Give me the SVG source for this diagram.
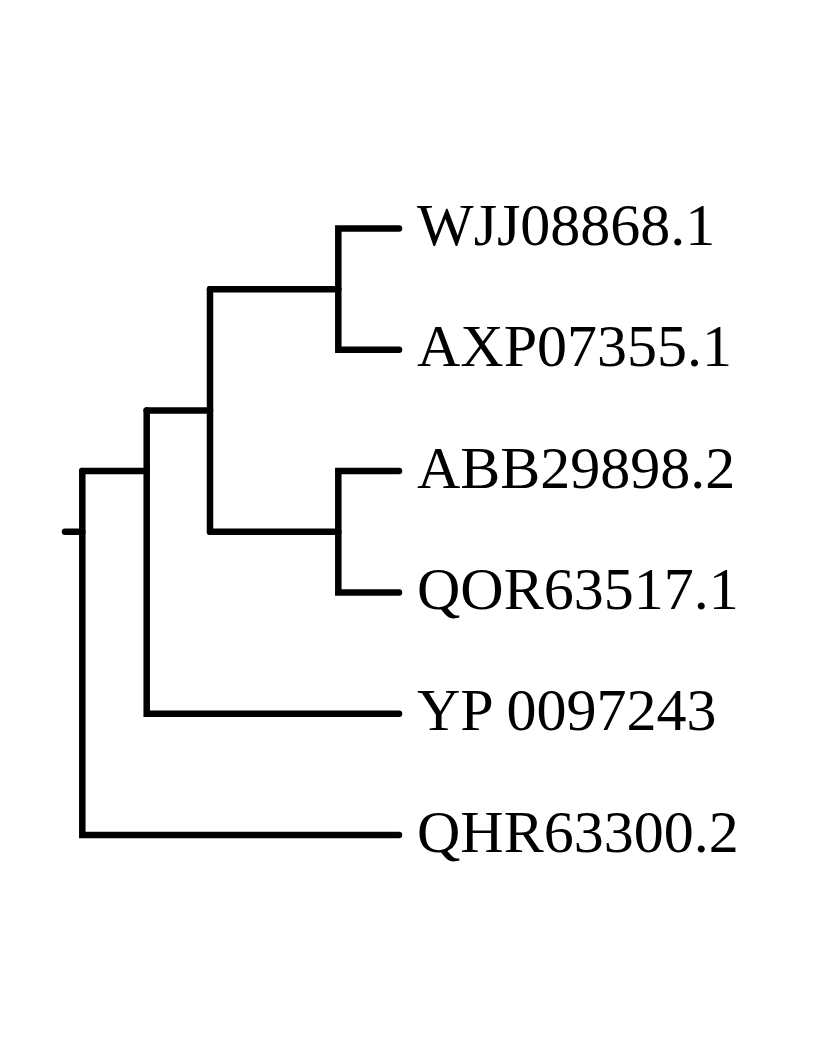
<svg xmlns="http://www.w3.org/2000/svg" width="813" height="1063" viewBox="0 0 813 1063">
  <style>
    .edge { fill: none; stroke: #000; stroke-width: 6.5; stroke-linecap: round; stroke-linejoin: miter; }
    .tip { font-family: "Liberation Serif", "Times New Roman", serif; font-size: 60px; fill: #000; }
  </style>
  <rect width="813" height="1063" fill="#fff"/>
  <!-- branches of the tree -->
  <g id="edges">
    <!-- root stub -->
    <path class="edge" d="M65,531.7 H82.3"/>
    <!-- root: QHR63300.2 vs rest -->
    <path class="edge" d="M82.3,471.1 V835 H399"/>
    <path class="edge" d="M82.3,471.1 H146.7"/>
    <!-- node with YP 0097243 -->
    <path class="edge" d="M146.7,410.4 V713.7 H399"/>
    <path class="edge" d="M146.7,410.4 H210"/>
    <!-- node joining both pairs -->
    <path class="edge" d="M210,289.2 V531.7"/>
    <path class="edge" d="M210,289.2 H338.3"/>
    <path class="edge" d="M210,531.7 H338.3"/>
    <!-- upper pair -->
    <path class="edge" d="M399,228.5 H338.3 V349.8 H399"/>
    <!-- lower pair -->
    <path class="edge" d="M399,471.1 H338.3 V592.4 H399"/>
  </g>
  <g id="tip-WJJ08868.1"><text class="tip" x="417" y="245">WJJ08868.1</text></g>
  <g id="tip-AXP07355.1"><text class="tip" x="417" y="366.3">AXP07355.1</text></g>
  <g id="tip-ABB29898.2"><text class="tip" x="417" y="487.6">ABB29898.2</text></g>
  <g id="tip-QOR63517.1"><text class="tip" x="417" y="608.9">QOR63517.1</text></g>
  <g id="tip-YP0097243"><text class="tip" x="417" y="730.2">YP 0097243</text></g>
  <g id="tip-QHR63300.2"><text class="tip" x="417" y="851.5">QHR63300.2</text></g>
</svg>
